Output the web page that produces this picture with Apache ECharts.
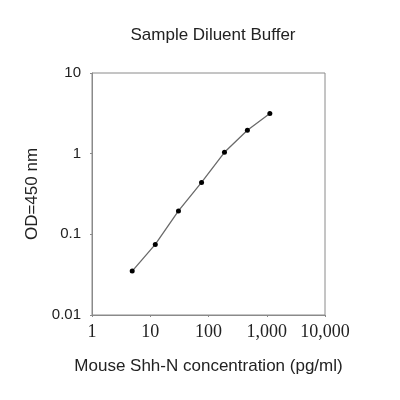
<!DOCTYPE html>
<html>
<head>
<meta charset="utf-8">
<script src="https://cdn.jsdelivr.net/npm/echarts@6/dist/echarts.min.js"></script>
<style>html,body{margin:0;padding:0;background:#fff}#c{width:400px;height:400px}</style>
</head>
<body>
<div id="c"></div>
<script>
const concentrations = [4.9, 12.2, 30.5, 76, 188, 465, 1130];
const odValues = [0.035, 0.075, 0.195, 0.44, 1.04, 1.95, 3.15];
const xTickLabels = {1: '1', 10: '10', 100: '100', 1000: '1,000', 10000: '10,000'};
const yTickLabels = {0.01: '0.01', 0.1: '0.1', 1: '1', 10: '10'};

const chart = echarts.init(document.getElementById('c'));
const axisGray = '#8a8a8a';
chart.setOption({
  animation: false,
  backgroundColor: '#fff',
  title: {
    text: 'Sample Diluent Buffer',
    left: 208, top: 22, textAlign: 'center',
    textStyle: {fontFamily: 'Liberation Sans', fontSize: 17, fontWeight: 'normal', color: '#222'}
  },
  grid: {left: 92, right: 75, top: 73, bottom: 85, show: true, borderColor: axisGray, borderWidth: 1},
  xAxis: {
    type: 'log', logBase: 10, min: 1, max: 10000,
    name: 'Mouse Shh-N concentration (pg/ml)', nameLocation: 'middle', nameGap: 43,
    nameTextStyle: {fontFamily: 'Liberation Sans', fontSize: 17, color: '#222'},
    axisLine: {lineStyle: {color: axisGray}},
    axisTick: {length: 2, lineStyle: {color: axisGray}},
    splitLine: {show: false},
    axisLabel: {
      margin: 8, fontFamily: 'Liberation Serif', fontSize: 18, color: '#222',
      formatter: v => { const k = Math.round(v); return xTickLabels[k] !== undefined ? xTickLabels[k] : ''; }
    }
  },
  yAxis: {
    type: 'log', logBase: 10, min: 0.01, max: 10,
    name: 'OD=450 nm', nameLocation: 'middle', nameGap: 49,
    nameTextStyle: {fontFamily: 'Liberation Sans', fontSize: 17, color: '#222'},
    axisLine: {show: true, lineStyle: {color: axisGray}},
    axisTick: {show: true, length: 2, lineStyle: {color: axisGray}},
    splitLine: {show: false},
    axisLabel: {
      margin: 11, fontFamily: 'Liberation Sans', fontSize: 15, color: '#222',
      formatter: v => {
        const e = Math.round(Math.log10(v));
        for (const k of Object.keys(yTickLabels)) {
          if (Math.abs(Math.log10(parseFloat(k)) - e) < 1e-6) return yTickLabels[k];
        }
        return '';
      }
    }
  },
  series: [{
    type: 'line',
    data: concentrations.map((c, i) => [c, odValues[i]]),
    symbol: 'circle', symbolSize: 5,
    itemStyle: {color: '#000'},
    lineStyle: {color: '#6a6a6a', width: 1.3},
    smooth: false
  }]
});
</script>
</body>
</html>
